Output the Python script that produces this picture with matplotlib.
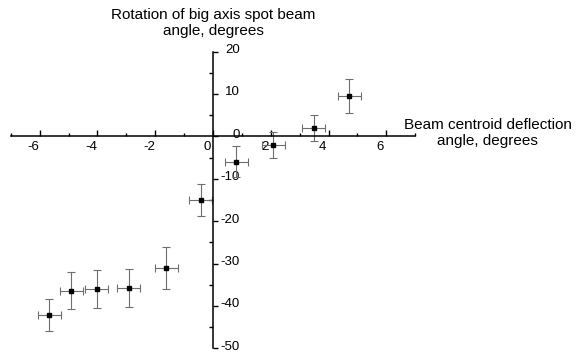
import matplotlib.pyplot as plt
from matplotlib.ticker import MultipleLocator
from matplotlib.transforms import ScaledTranslation

plt.rcParams["font.family"] = ["Liberation Sans", "DejaVu Sans"]
plt.rcParams["axes.unicode_minus"] = False

# deflection angle (x), rotation angle (y), error bars
deflection = [-5.66, -4.9, -4.03, -2.92, -1.61, -0.43, 0.8, 2.09, 3.48, 4.72]
rotation = [-42.2, -36.4, -36.0, -35.7, -31.0, -15.0, -6.0, -2.1, 1.95, 9.6]
deflection_err = [0.4, 0.4, 0.4, 0.4, 0.4, 0.4, 0.4, 0.39, 0.39, 0.4]
rotation_err = [3.8, 4.4, 4.4, 4.5, 5.0, 3.8, 3.7, 3.1, 3.1, 4.0]

x_ticks = [-6, -4, -2, 0, 2, 4, 6]
y_ticks = [-50, -40, -30, -20, -10, 0, 10, 20]

fig = plt.figure(figsize=(5.76, 3.53), dpi=100)
ax = fig.add_axes([0.0186, 0.0133, 0.7024, 0.8408])

ax.errorbar(deflection, rotation, xerr=deflection_err, yerr=rotation_err,
            fmt="none", ecolor="#6e6e6e", elinewidth=0.8, capsize=3,
            capthick=0.8, zorder=2)
ax.plot(deflection, rotation, "s", color="black", markersize=3.2, zorder=3)

ax.set_xlim(-7, 7)
ax.set_ylim(-50, 20)

# axes crossing at the origin
ax.spines["top"].set_visible(False)
ax.spines["left"].set_visible(False)
ax.spines["bottom"].set_position(("data", 0))
ax.spines["right"].set_position(("data", 0))
for s in ["bottom", "right"]:
    ax.spines[s].set_linewidth(1.1)
ax.yaxis.set_ticks_position("right")

ax.set_xticks(x_ticks)
ax.xaxis.set_minor_locator(MultipleLocator(1))
ax.set_yticks(y_ticks)
ax.yaxis.set_minor_locator(MultipleLocator(5))

ax.tick_params(axis="x", which="major", direction="in", length=4, width=1,
               pad=3.5, labelsize=9.5)
ax.tick_params(axis="x", which="minor", direction="in", length=2.5, width=1)
ax.tick_params(axis="y", which="major", direction="out", length=3.5, width=1,
               pad=16, labelsize=9.5)
ax.tick_params(axis="y", which="minor", direction="in", length=3, width=1)

# x labels sit a little left of their ticks, y labels right-aligned
shift_x = ScaledTranslation(-0.06, 0, fig.dpi_scale_trans)
for lbl in ax.get_xticklabels():
    lbl.set_transform(lbl.get_transform() + shift_x)
shift_y = ScaledTranslation(0, 0.03, fig.dpi_scale_trans)
for lbl in ax.get_yticklabels():
    lbl.set_horizontalalignment("right")
    lbl.set_transform(lbl.get_transform() + shift_y)

fig.text(0.37, 0.935, "Rotation of big axis spot beam\nangle, degrees",
         ha="center", va="center", multialignment="center", fontsize=11,
         linespacing=1.15)
fig.text(0.847, 0.623, "Beam centroid deflection\nangle, degrees",
         ha="center", va="center", multialignment="center", fontsize=11,
         linespacing=1.15)

fig.savefig("out.png", dpi=100)
plt.close(fig)
